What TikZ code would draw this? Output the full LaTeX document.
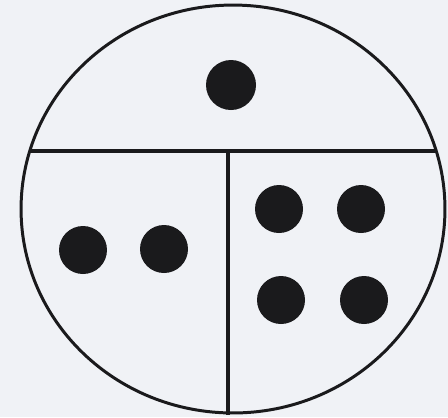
\documentclass[tikz,border=0pt]{standalone}
\usetikzlibrary{positioning}
\definecolor{paper}{RGB}{240,242,246}
\definecolor{ink}{RGB}{26,26,28}
\begin{document}
\begin{tikzpicture}[x=0.02cm, y=-0.02cm,
            rim/.style={draw=ink, line width=1.7pt},
            wall/.style={draw=ink, line width=1.9pt},
            dot/.style={circle, fill=ink, inner sep=0pt, minimum size=0.96cm}
        ]
        \fill[paper] (0,0) rectangle (448,417);
        \useasboundingbox (0,0) rectangle (448,417);

        \def\cx{233}
        \def\cy{209}
        \def\ch{151}
        \def\vx{228}

        % outer ring
        \draw[rim] (\cx,\cy) ellipse [x radius=4.24cm, y radius=4.08cm];

        % chord and divider
        \coordinate (chordL) at (30,\ch);
        \coordinate (chordR) at (436,\ch);
        \coordinate (divTop) at (\vx,\ch);
        \coordinate (divBot) at (\vx,415);
        \draw[wall] (chordL) -- (chordR);
        \draw[wall] (divTop) -- (divBot);

        % dots
        \node[dot, minimum size=1.0cm] (top) at (231,85) {};
        \node[dot] (left1) at (83,250) {};
        \node[dot] (left2) at (164,249) {};
        \node[dot] (right1) at (279,209) {};
        \node[dot] (right2) at (361,209) {};
        \node[dot] (right3) at (281,300) {};
        \node[dot] (right4) at (364,300) {};
    \end{tikzpicture}
\end{document}
